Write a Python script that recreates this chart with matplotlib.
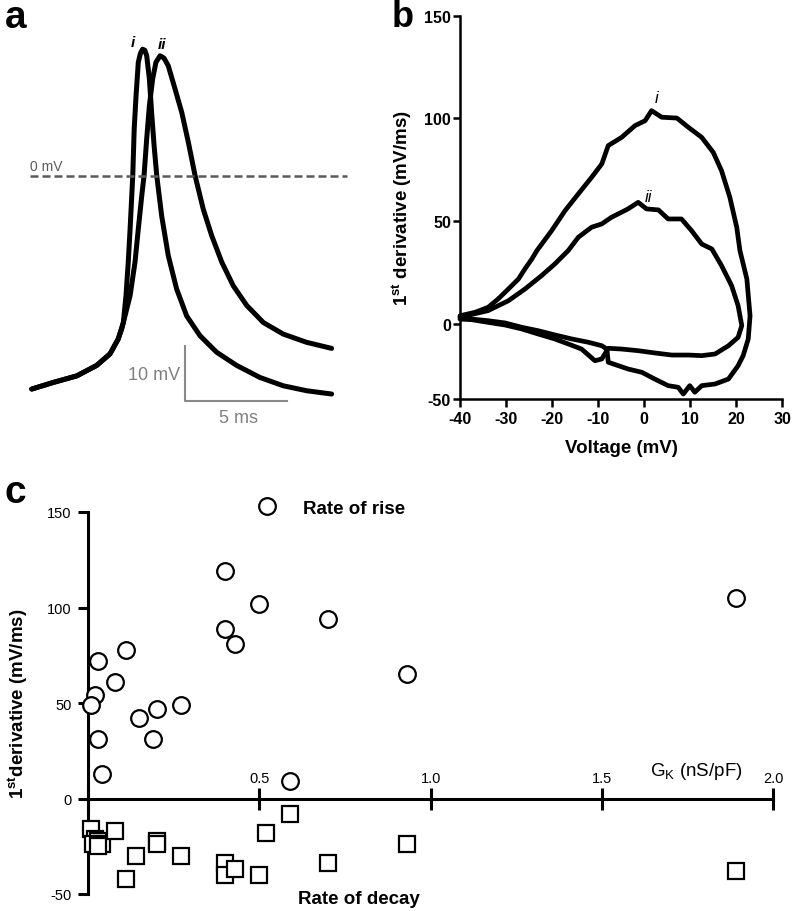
import numpy as np
import matplotlib
matplotlib.use('Agg')
import matplotlib.pyplot as plt

plt.rcParams['font.family'] = ['Liberation Sans', 'DejaVu Sans']
plt.rcParams['axes.unicode_minus'] = False
plt.rcParams['mathtext.fontset'] = 'custom'
plt.rcParams['mathtext.rm'] = 'Liberation Sans'
plt.rcParams['mathtext.bf'] = 'Liberation Sans:bold'
plt.rcParams['mathtext.it'] = 'Liberation Sans:italic'

# ---------------- Panel a: action potentials (time ms, voltage mV) ----------------
ap_i_t = [0, 1.05, 2.2, 3.17, 3.82, 4.22, 4.47, 4.6, 4.71, 4.8, 4.93, 5.0, 5.09, 5.2, 5.3,
          5.41, 5.52, 5.61, 5.74, 5.85, 5.97, 6.1, 6.34, 6.66, 7.07, 7.56, 8.21, 9.02, 10.0,
          11.14, 12.27, 13.41, 14.63]
ap_i_v = [-38.8, -37.6, -36.4, -34.5, -32.4, -29.7, -26.7, -21.8, -15.7, -9.7, 0, 8.5, 14.5,
          20.6, 22.2, 23.0, 22.8, 21.8, 17.6, 11.5, 5.5, 0, -7.3, -14.5, -20.6, -25.5, -29.1,
          -32.1, -34.5, -36.7, -38.2, -39.1, -39.7]
ap_ii_t = [0, 1.05, 2.2, 3.17, 3.82, 4.22, 4.39, 4.8, 5.04, 5.2, 5.37, 5.48, 5.61, 5.74, 5.9,
           6.06, 6.26, 6.45, 6.66, 6.99, 7.32, 7.64, 7.97, 8.37, 8.78, 9.27, 9.83, 10.49, 11.3,
           12.27, 13.41, 14.63]
ap_ii_v = [-38.8, -37.6, -36.4, -34.5, -32.4, -29.7, -27.9, -21.8, -15.7, -9.7, -3.6, 0, 6.7,
           12.7, 17.6, 20.6, 21.8, 21.4, 20.0, 15.8, 11.5, 6.1, 0, -6.1, -10.9, -15.7, -20.0,
           -23.6, -26.7, -28.8, -30.3, -31.4]

# ---------------- Panel b: phase plots (voltage mV, dV/dt mV/ms) ----------------
ph_i_v = [-40, -36.7, -33.9, -31.7, -29.5, -27.3, -25.9, -24.4, -23.3, -20.1, -17.2, -14.3,
          -11.4, -9.2, -7.8, -4.9, -2.0, 0.2, 1.6, 3.8, 7.1, 9.6, 12.5, 15.0, 16.8, 18.6, 20.1,
          20.8, 22.3, 23.0, 22.6, 21.5, 20.4, 18.3, 15.4, 12.5, 11.0, 9.9, 8.5, 7.4, 5.2, 2.3,
          -0.5, -3.5, -5.6, -7.8, -8.1, -9.2, -12.1, -15.7, -19.4, -23.0, -26.6, -30.2, -33.9,
          -37.5, -40]
ph_i_d = [4.0, 5.7, 8.1, 12.2, 17.0, 21.9, 26.8, 31.6, 35.7, 45.4, 55.1, 63.3, 71.4, 77.9,
          86.8, 90.8, 96.5, 98.9, 103.8, 100.6, 100.2, 95.7, 90.8, 83.5, 74.6, 61.7, 47.1, 35.7,
          21.9, 4.0, -10.0, -21.1, -27.8, -36.7, -40.0, -41.1, -45.5, -41.1, -46.7, -42.2,
          -41.1, -36.7, -32.2, -30.0, -27.8, -25.5, -16.7, -14.5, -12.2, -10.0, -7.3, -4.5,
          -2.2, 0.5, 1.6, 2.4, 3.3]
ph_ii_v = [-40, -33.9, -29.5, -25.9, -22.3, -19.4, -16.5, -14.3, -11.4, -9.2, -7.1, -4.9,
           -3.5, -1.3, 0.5, 3.1, 5.2, 8.1, 10.3, 12.5, 14.7, 16.8, 19.0, 20.4, 21.2, 20.4,
           18.3, 15.4, 12.5, 9.6, 6.0, 2.3, -1.3, -4.9, -7.8, -9.2, -10.7, -12.1, -13.6,
           -16.5, -19.4, -23.0, -26.6, -30.2, -33.9, -37.5, -40]
ph_ii_d = [3.3, 6.5, 11.3, 17.0, 23.5, 29.2, 35.7, 42.2, 47.1, 48.7, 51.9, 54.4, 56.0, 59.2,
           56.0, 55.5, 51.1, 51.1, 45.4, 38.9, 36.5, 28.4, 18.6, 8.9, -1.1, -8.9, -14.5,
           -20.0, -21.1, -20.7, -20.7, -19.3, -17.8, -16.7, -16.2, -23.3, -24.5, -20.7,
           -16.7, -13.3, -10.0, -6.7, -3.3, -0.7, 0.8, 2.1, 2.4]
b_xticks = [-40, -30, -20, -10, 0, 10, 20, 30]
b_yticks = [-50, 0, 50, 100, 150]

# ---------------- Panel c: scatter vs G_K ----------------
rise_gk = [0.40, 0.50, 0.70, 0.40, 0.43, 0.03, 0.11, 0.08, 0.02, 0.01, 0.15, 0.20, 0.27,
           0.19, 0.03, 0.04, 0.59, 0.93, 1.89]
rise_val = [119, 102, 94, 89, 81, 72, 78, 61, 54, 49, 42, 47, 49, 31, 31, 13, 9, 65, 105]
decay_gk = [0.01, 0.02, 0.03, 0.04, 0.015, 0.03, 0.08, 0.14, 0.20, 0.20, 0.27, 0.11, 0.40,
            0.40, 0.43, 0.50, 0.52, 0.59, 0.70, 0.93, 1.89]
decay_val = [-16, -21, -22, -24, -24, -25, -17, -30, -22, -24, -30, -42, -34, -40, -37, -40,
             -18, -8, -34, -24, -38]
c_xticks = [0, 0.5, 1.0, 1.5, 2.0]
c_xticklabels = ['', '0.5', '1.0', '1.5', '2.0']
c_yticks = [-50, 0, 50, 100, 150]

W, H = 792, 912
fig = plt.figure(figsize=(W / 100, H / 100), dpi=100)


def px_axes(x0, y0, x1, y1):
    return fig.add_axes([x0 / W, 1 - y1 / H, (x1 - x0) / W, (y1 - y0) / H])


# ---------- Panel a ----------
axa = px_axes(0, 30, 380, 420)
axa.set_xlim(-1.546, 16.99)
axa.set_ylim(-44.24, 26.67)
axa.axis('off')
axa.plot(ap_ii_t, ap_ii_v, color='black', lw=3.6, solid_capstyle='round', solid_joinstyle='round')
axa.plot(ap_i_t, ap_i_v, color='black', lw=3.6, solid_capstyle='round', solid_joinstyle='round')
axa.plot([-0.08, 15.38], [0, 0], color='#5a5a5a', lw=1.8, dashes=(3.2, 1.6))
axa.text(-0.08, 1.8, '0 mV', color='#5a5a5a', fontsize=10, ha='left', va='center')
axa.plot([7.48, 7.48, 12.47], [-30.9, -40.9, -40.9], color='#8a8a8a', lw=1.5)
axa.text(7.24, -36.1, '10 mV', color='#808080', fontsize=13, ha='right', va='center')
axa.text(10.07, -43.9, '5 ms', color='#808080', fontsize=13, ha='center', va='center')
axa.text(4.93, 24.3, 'i', fontsize=11, style='italic', weight='bold', ha='center', va='center')
axa.text(6.34, 23.9, 'ii', fontsize=11, style='italic', weight='bold', ha='center', va='center')

# ---------- Panel b ----------
axb = px_axes(460, 16.7, 782.3, 400)


def fwd(y):
    y = np.asarray(y, float)
    return np.where(y >= 0, y, y * 0.73)


def inv(y):
    y = np.asarray(y, float)
    return np.where(y >= 0, y, y / 0.73)


axb.set_yscale('function', functions=(fwd, inv))
axb.plot(ph_ii_v, ph_ii_d, color='black', lw=3.4, solid_joinstyle='round', solid_capstyle='round', clip_on=False)
axb.plot(ph_i_v, ph_i_d, color='black', lw=3.4, solid_joinstyle='round', solid_capstyle='round', clip_on=False)
axb.set_xlim(-40, 30)
axb.set_ylim(-50, 150)
axb.set_xticks(b_xticks)
axb.set_yticks(b_yticks)
axb.yaxis.set_minor_locator(matplotlib.ticker.NullLocator())
for s in ['top', 'right']:
    axb.spines[s].set_visible(False)
for s in ['left', 'bottom']:
    axb.spines[s].set_linewidth(1.8)
axb.tick_params(axis='x', direction='out', length=6, width=1.8, pad=3, labelsize=11.5)
axb.tick_params(axis='y', direction='out', length=5, width=1.8, pad=1.5, labelsize=11.5)
for lab in axb.get_xticklabels() + axb.get_yticklabels():
    lab.set_fontweight('bold')
axb.set_xlabel('Voltage (mV)', fontsize=13.5, weight='bold', labelpad=9)
axb.set_ylabel(r'$\mathbf{1^{st}}$ derivative (mV/ms)', fontsize=13.5, weight='bold', labelpad=7)
axb.text(2.7, 110, 'i', fontsize=12, style='italic', ha='center', va='center')
axb.text(0.9, 62, 'ii', fontsize=12, style='italic', ha='center', va='center')

# ---------- Panel c ----------
axc = px_axes(88, 513, 773.3, 895)
axc.set_xlim(0, 2.0)
axc.set_ylim(-50, 150)
axc.plot(decay_gk, decay_val, ls='none', marker='s', ms=11, mfc='white', mec='black', mew=1.6,
         clip_on=False, zorder=3)
axc.plot(rise_gk, rise_val, ls='none', marker='o', ms=12, mfc='white', mec='black', mew=1.6,
         clip_on=False, zorder=3, label='Rate of rise')
axc.spines['right'].set_visible(False)
axc.spines['bottom'].set_visible(False)
axc.spines['top'].set_position(('data', 0))
axc.spines['top'].set_linewidth(2.2)
axc.spines['left'].set_linewidth(2.2)
axc.xaxis.set_ticks_position('top')
axc.set_xticks(c_xticks)
axc.set_xticklabels(c_xticklabels)
axc.set_yticks(c_yticks)
axc.tick_params(axis='x', direction='inout', length=16, width=2.2, pad=2, labelsize=10.5)
axc.tick_params(axis='y', direction='out', length=7, width=2.2, pad=5, labelsize=10.5)
axc.set_ylabel(r'$\mathbf{1^{st}}$derivative (mV/ms)', fontsize=13.5, weight='bold', labelpad=12)
axc.legend(loc='center left', bbox_to_anchor=(0.2476, 1.0105), frameon=False, handlelength=1,
           handletextpad=1.4, borderpad=0, borderaxespad=0, numpoints=1,
           prop=dict(weight='bold', size=13.5))
axc.text(0.613, -52.6, 'Rate of decay', fontsize=13.5, weight='bold', ha='left', va='center',
         clip_on=False)
axc.text(1.64, 14.6, r'G$_{\mathrm{K}}$ (nS/pF)', fontsize=13.5, ha='left', va='center')

# panel letters
fig.text(5 / W, 1 - 28 / H, 'a', fontsize=28, weight='bold', ha='left', va='baseline')
fig.text(392 / W, 1 - 27 / H, 'b', fontsize=26, weight='bold', ha='left', va='baseline')
fig.text(5 / W, 1 - 503 / H, 'c', fontsize=28, weight='bold', ha='left', va='baseline')

fig.savefig('out.png', dpi=100)
